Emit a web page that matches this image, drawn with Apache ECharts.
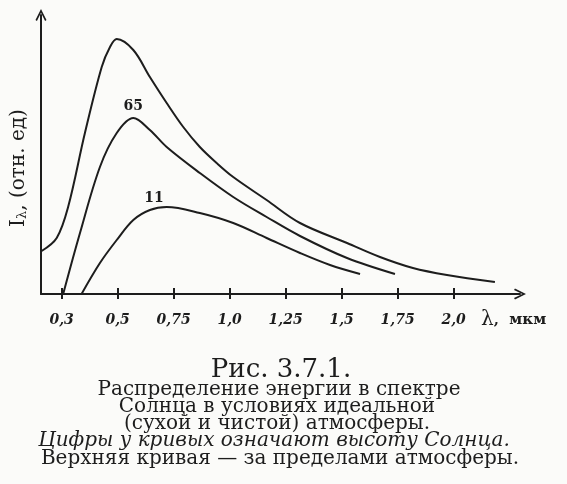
<!DOCTYPE html>
<html>
<head>
<meta charset="utf-8">
<script src="https://cdn.jsdelivr.net/npm/echarts@6/dist/echarts.min.js"></script>
<style>
html, body { margin: 0; padding: 0; background: #fbfbf9; }
#chart { width: 567px; height: 484px; }
</style>
</head>
<body>
<div id="chart"></div>
<script>
// верхняя кривая — за пределами атмосферы
const topX = [0.161, 0.228, 0.279, 0.354, 0.429, 0.466, 0.496, 0.570, 0.644, 0.719, 0.793, 0.867, 0.942, 1.016, 1.165, 1.314, 1.524, 1.671, 1.818, 1.970, 2.184]
const topY = [43, 56, 87, 161, 227, 247, 255, 244, 217, 191, 167, 147, 131, 117, 94, 71, 51, 37, 26, 19, 12]
// высота Солнца 65°
const h65X = [0.257, 0.332, 0.421, 0.496, 0.570, 0.644, 0.719, 0.867, 1.016, 1.165, 1.314, 1.524, 1.738]
const h65Y = [0, 61, 127, 161, 176, 164, 147, 121, 97, 77, 58, 36, 20]
// высота Солнца 11°
const h11X = [0.339, 0.421, 0.496, 0.570, 0.644, 0.719, 0.867, 1.016, 1.165, 1.314, 1.448, 1.582]
const h11Y = [0, 31, 54, 74, 84, 87, 81, 71, 56, 41, 29, 20]
// деления оси λ
const tickValues = [0.25, 0.5, 0.75, 1.0, 1.25, 1.5, 1.75, 2.0]
const tickLabels = ['0,3', '0,5', '0,75', '1,0', '1,25', '1,5', '1,75', '2,0']

const ink = '#1d1d1d'
const serif = 'DejaVu Serif'
const arrow = 'path://M0,10 L5,0 L10,10 L8.7,10.9 L5,3.3 L1.3,10.9 Z'

function pairs (xs, ys, labelIdx, labelText) {
  return xs.map((x, i) => {
    if (i === labelIdx) {
      return {
        value: [x, ys[i]],
        label: {
          show: true,
          position: 'top',
          distance: 4,
          offset: labelText === '11' ? [4, 0] : [0, 0],
          formatter: labelText,
          color: ink,
          fontFamily: serif,
          fontWeight: 'bold',
          fontSize: 14
        }
      }
    }
    return [x, ys[i]]
  })
}

function curve (name, data) {
  return {
    name: name,
    type: 'line',
    data: data,
    smooth: 0.35,
    showSymbol: true,
    symbol: 'circle',
    symbolSize: 1,
    itemStyle: { color: 'rgba(0,0,0,0)' },
    lineStyle: { color: ink, width: 2 },
    silent: true
  }
}

const myChart = echarts.init(document.getElementById('chart'))
myChart.setOption({
  animation: false,
  backgroundColor: '#fbfbf9',
  grid: { left: 41, right: 47, top: 15, bottom: 190 },
  xAxis: [
    {
      type: 'value',
      min: 0.158,
      max: 2.296,
      axisLine: {
        onZero: false,
        symbol: ['none', arrow],
        symbolSize: [16, 12],
        lineStyle: { color: ink, width: 2 }
      },
      axisTick: { customValues: tickValues, length: 5, lineStyle: { color: ink, width: 2 } },
      axisLabel: {
        customValues: tickValues,
        formatter: v => tickLabels[tickValues.indexOf(v)],
        margin: 19,
        color: ink,
        fontFamily: serif,
        fontStyle: 'italic',
        fontWeight: 'bold',
        fontSize: 14
      },
      splitLine: { show: false }
    },
    {
      type: 'value',
      min: 0.158,
      max: 2.296,
      position: 'bottom',
      axisLine: { show: false },
      axisTick: { inside: true, customValues: tickValues, length: 6, lineStyle: { color: ink, width: 2 } },
      axisLabel: { show: false },
      splitLine: { show: false }
    }
  ],
  yAxis: {
    type: 'value',
    min: 0,
    max: 279,
    axisLine: {
      show: true,
      onZero: false,
      symbol: ['none', arrow],
      symbolSize: [16, 12],
      lineStyle: { color: ink, width: 2 }
    },
    axisTick: { show: false },
    axisLabel: { show: false },
    splitLine: { show: false }
  },
  series: [
    curve('вне атмосферы', pairs(topX, topY, -1, '')),
    curve('65', pairs(h65X, h65Y, 4, '65')),
    curve('11', pairs(h11X, h11Y, 4, '11'))
  ],
  graphic: [
    {
      type: 'text',
      x: 19,
      y: 168,
      rotation: Math.PI / 2,
      style: {
        text: '{a|I}{b|λ}{a|, (отн. ед)}',
        align: 'center',
        verticalAlign: 'middle',
        fill: ink,
        rich: {
          a: { fontFamily: serif, fontSize: 20, fill: ink, verticalAlign: 'middle' },
          b: { fontFamily: serif, fontSize: 13, fill: ink, verticalAlign: 'bottom' }
        }
      }
    },
    {
      type: 'text',
      x: 481,
      y: 320,
      style: {
        text: '{l|λ}{m|,  мкм}',
        verticalAlign: 'middle',
        rich: {
          l: { fontFamily: serif, fontSize: 20, fill: ink },
          m: { fontFamily: serif, fontSize: 15, fontWeight: 'bold', fill: ink }
        }
      }
    },
    {
      type: 'text', x: 281, y: 370,
      style: { text: 'Рис. 3.7.1.', align: 'center', verticalAlign: 'middle', font: '26px "DejaVu Serif"', fill: ink }
    },
    {
      type: 'text', x: 279, y: 390,
      style: { text: 'Распределение энергии в спектре', align: 'center', verticalAlign: 'middle', font: '20px "DejaVu Serif"', fill: ink }
    },
    {
      type: 'text', x: 277, y: 407,
      style: { text: 'Солнца в условиях идеальной', align: 'center', verticalAlign: 'middle', font: '20px "DejaVu Serif"', fill: ink }
    },
    {
      type: 'text', x: 277, y: 424,
      style: { text: '(сухой и чистой) атмосферы.', align: 'center', verticalAlign: 'middle', font: '20px "DejaVu Serif"', fill: ink }
    },
    {
      type: 'text', x: 274, y: 441,
      style: { text: 'Цифры у кривых означают высоту Солнца.', align: 'center', verticalAlign: 'middle', font: 'italic 20px "DejaVu Serif"', fill: ink }
    },
    {
      type: 'text', x: 280, y: 459,
      style: { text: 'Верхняя кривая — за пределами атмосферы.', align: 'center', verticalAlign: 'middle', font: '20px "DejaVu Serif"', fill: ink }
    }
  ]
})
</script>
</body>
</html>
